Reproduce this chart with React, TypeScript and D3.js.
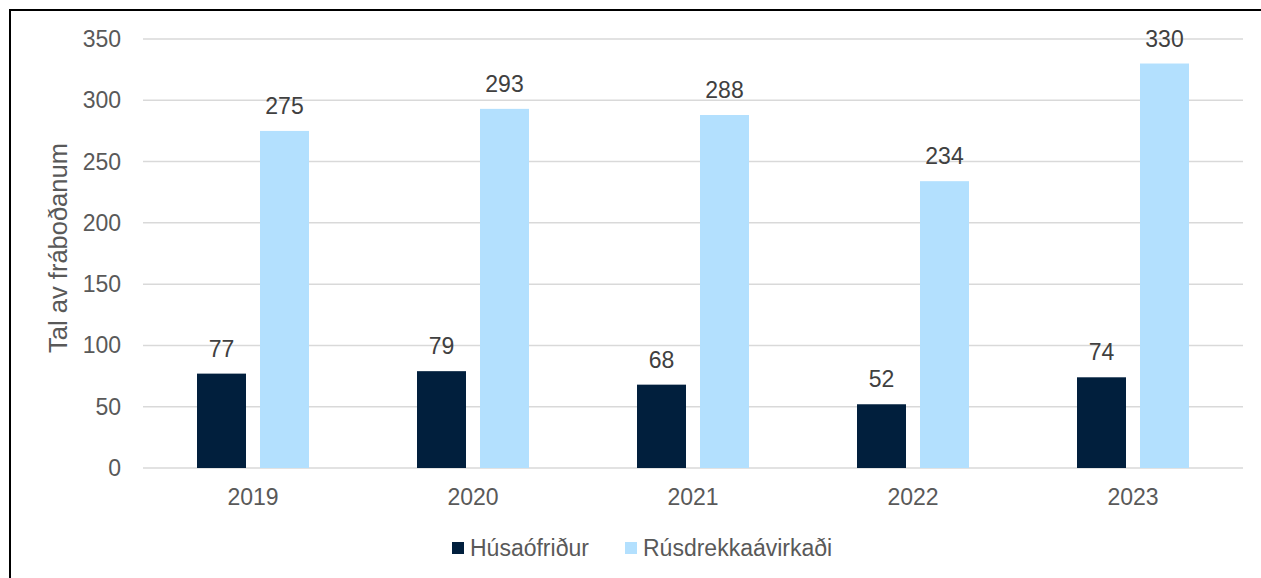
import React from 'react';
import * as d3 from 'd3';

const years = ['2019', '2020', '2021', '2022', '2023'];
const husaofridur = [77, 79, 68, 52, 74];
const rusdrekka = [275, 293, 288, 234, 330];
const seriesNames = ['Húsaófriður', 'Rúsdrekkaávirkaði'];
const colors = ['#011F3D', '#B3E0FE'];
const yTicks = [0, 50, 100, 150, 200, 250, 300, 350];

export default function App() {
  const width = 1261;
  const height = 578;
  const left = 143;
  const right = 1243;
  const top = 39;
  const bottom = 468;

  const x = d3.scaleBand().domain(years).range([left, right]);
  const y = d3.scaleLinear().domain([0, 350]).range([bottom, top]);
  const barW = 49;
  const gap = 14;
  const font = 'Liberation Sans, Arial, sans-serif';
  const textColor = '#595959';

  const series = [husaofridur, rusdrekka];

  return (
    <svg
      width={width}
      height={height}
      style={{ position: 'absolute', left: 0, top: 0 }}
      fontFamily={font}
    >
      <rect x={0} y={0} width={width} height={height} fill="#fff" />
      <rect x={10} y={10} width={width + 10} height={height + 10} fill="none" stroke="#000" strokeWidth={2} />
      {yTicks.map(t => (
        <g key={t}>
          <line x1={left} x2={right} y1={y(t)} y2={y(t)} stroke="#D9D9D9" strokeWidth={1.5} />
          <text x={121} y={y(t)} dy="0.35em" textAnchor="end" fontSize={23} fill={textColor}>
            {t}
          </text>
        </g>
      ))}
      {years.map((yr, i) => {
        const c = (x(yr) as number) + x.bandwidth() / 2;
        return (
          <g key={yr}>
            {series.map((s, k) => {
              const bx = k === 0 ? c - gap / 2 - barW : c + gap / 2;
              return (
                <g key={k}>
                  <rect x={bx} y={y(s[i])} width={barW} height={bottom - y(s[i])} fill={colors[k]} />
                  <text
                    x={bx + barW / 2}
                    y={y(s[i]) - 17}
                    textAnchor="middle"
                    fontSize={23}
                    fill="#404040"
                  >
                    {s[i]}
                  </text>
                </g>
              );
            })}
            <text x={c} y={505} textAnchor="middle" fontSize={23} fill={textColor}>
              {yr}
            </text>
          </g>
        );
      })}
      <text
        transform={`translate(67,248) rotate(-90)`}
        textAnchor="middle"
        fontSize={25.5}
        fill={textColor}
      >
        Tal av fráboðanum
      </text>
      <g>
        <rect x={452} y={542} width={12} height={12} fill={colors[0]} />
        <text x={470} y={556} fontSize={23} fill={textColor}>
          {seriesNames[0]}
        </text>
        <rect x={625} y={542} width={12} height={12} fill={colors[1]} />
        <text x={643} y={556} fontSize={23} fill={textColor}>
          {seriesNames[1]}
        </text>
      </g>
    </svg>
  );
}
